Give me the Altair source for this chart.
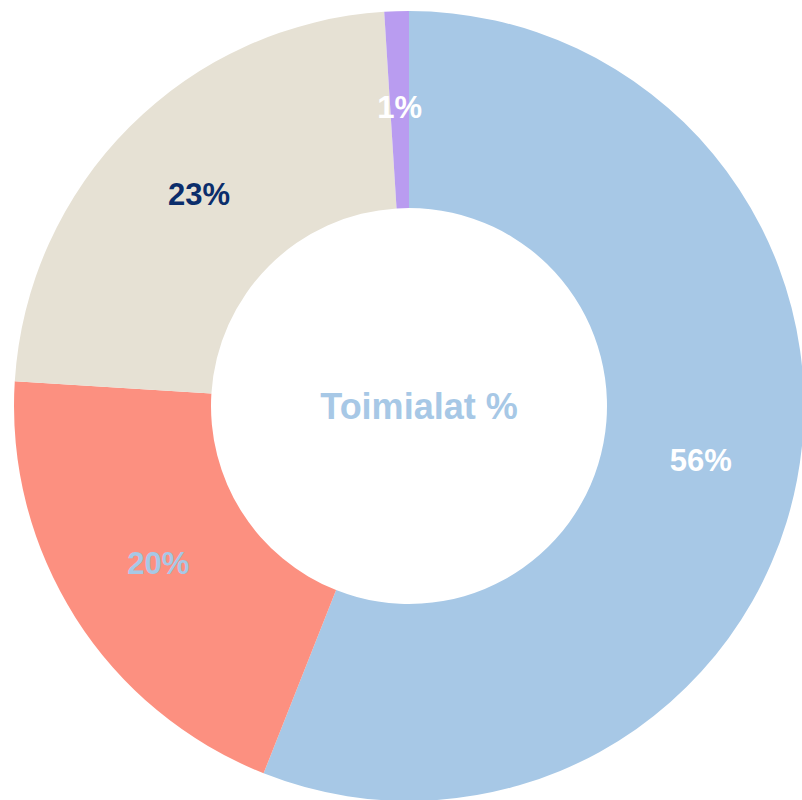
import altair as alt
import pandas as pd

categories = ["Palvelut", "Teollisuus", "Kauppa", "Muut"]
values = [56, 20, 23, 1]
labels = ["56%", "20%", "23%", "1%"]
slice_colors = ["#a7c8e6", "#fc9080", "#e6e1d4", "#b99cf0"]
label_colors = ["#ffffff", "#a7c8e6", "#0b2d6b", "#ffffff"]

df = pd.DataFrame({
    "cat": categories,
    "val": values,
    "label": labels,
    "order": list(range(len(categories))),
    "lc": label_colors,
})

CX, CY = 409, 406

base = alt.Chart(df).encode(
    theta=alt.Theta("val:Q", stack=True),
    order=alt.Order("order:Q"),
    x=alt.value(CX),
    y=alt.value(CY),
)

arcs = base.mark_arc(outerRadius=395, innerRadius=198, stroke=None).encode(
    color=alt.Color("cat:N", scale=alt.Scale(domain=categories, range=slice_colors), legend=None)
)

text = base.mark_text(radius=297, font="Liberation Sans", fontWeight="bold",
                      fontSize=31).encode(
    text="label:N",
    color=alt.Color("lc:N", scale=None),
)

center = alt.Chart(pd.DataFrame({"t": ["Toimialat %"]})).mark_text(
    font="Liberation Sans", fontWeight="bold", fontSize=36, color="#a7c8e6"
).encode(text="t:N", x=alt.value(419), y=alt.value(408))

chart = alt.layer(arcs, text, center).properties(
    width=802, height=800, padding=0, autosize=alt.AutoSizeParams(type="none")
).configure_view(stroke=None)

chart.save("out.html", embed_options={"renderer": "svg", "actions": False})
